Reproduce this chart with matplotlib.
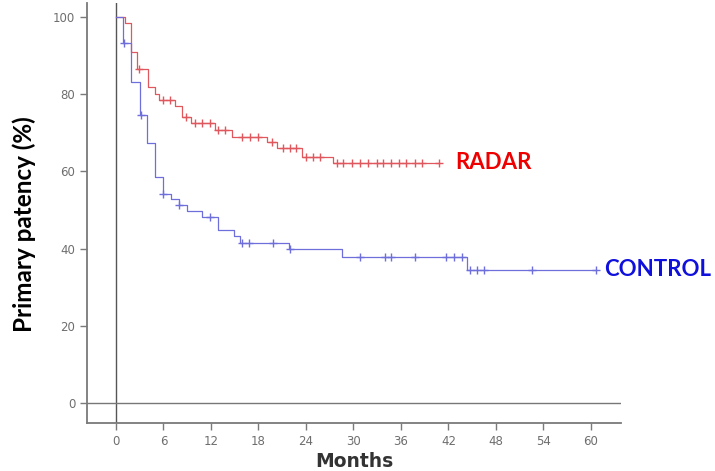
import matplotlib
matplotlib.use('Agg')
import matplotlib.pyplot as plt
import numpy as np

# Kaplan-Meier steps (months, % patent)
radar_t = [0, 1.2, 1.85, 2.7, 4.0, 4.9, 5.4, 7.5, 8.4, 9.5, 12.5, 14.7, 19.1, 20.3, 23.5, 27.4, 40.8]
radar_v = [100, 98.5, 91.0, 86.4, 81.9, 80.0, 78.5, 77.0, 74.0, 72.6, 70.7, 68.8, 67.6, 66.0, 63.7, 62.2, 62.2]
radar_cens = [2.9, 5.9, 6.8, 8.8, 10.0, 10.9, 11.9, 12.9, 13.8, 15.9, 16.9, 17.9, 19.7, 21.1, 22.0,
              22.8, 24.0, 24.9, 25.8, 27.9, 28.7, 29.8, 30.8, 31.8, 33.0, 33.7, 34.8, 35.7, 36.7,
              37.8, 38.6, 40.8]

control_t = [0, 0.9, 1.9, 3.0, 3.9, 4.9, 5.9, 7.0, 7.9, 9.0, 10.9, 12.9, 14.9, 15.7, 21.9, 28.5, 44.4, 60.7]
control_v = [100, 93.3, 83.2, 74.6, 67.4, 58.5, 54.1, 52.8, 51.3, 49.7, 48.2, 44.8, 43.3, 41.5, 39.9, 37.7, 34.5, 34.5]
control_cens = [1.0, 3.1, 6.0, 8.0, 11.9, 15.9, 16.8, 19.8, 22.0, 30.8, 34.0, 34.7, 37.8, 41.7,
                42.7, 43.7, 44.7, 45.6, 46.5, 52.5, 60.7]

x_ticks = list(range(0, 61, 6))
y_ticks = [0, 20, 40, 60, 80, 100]

RED_LINE = '#e0585e'
BLUE_LINE = '#6f6fdc'
AXIS_GRAY = '#7a7a7a'


def step_value(times, values, at):
    # survival level right at a censoring time
    idx = np.searchsorted(times, at, side='right') - 1
    return np.asarray(values)[idx]


fig = plt.figure(figsize=(7.15, 4.71), dpi=100)
ax = fig.add_axes([0.1217, 0.1019, 0.8685 - 0.1217, 0.9936 - 0.1019])

ax.plot(radar_t, radar_v, drawstyle='steps-post', color=RED_LINE, lw=0.9)
ax.plot(radar_cens, step_value(radar_t, radar_v, radar_cens), ls='none', marker='+',
        ms=6, mew=1.0, color=RED_LINE)

ax.plot(control_t, control_v, drawstyle='steps-post', color=BLUE_LINE, lw=0.9)
ax.plot(control_cens, step_value(control_t, control_v, control_cens), ls='none', marker='+',
        ms=6, mew=1.0, color=BLUE_LINE)

# reference lines through the origin
ax.axvline(0, color='#555555', lw=1.0, zorder=0)
ax.axhline(0, color='#777777', lw=1.0, zorder=0)

ax.set_xlim(-3.66, 63.8)
ax.set_ylim(-5.2, 103.6)
ax.set_xticks(x_ticks)
ax.set_yticks(y_ticks)

for side in ['top', 'right']:
    ax.spines[side].set_visible(False)
for side in ['left', 'bottom']:
    ax.spines[side].set_color(AXIS_GRAY)
    ax.spines[side].set_linewidth(1.3)

ax.tick_params(axis='both', direction='out', length=5, width=1.0, color=AXIS_GRAY,
               labelcolor='#6e6e6e', labelsize=8.5)

ax.set_xlabel('Months', fontsize=13.5, fontweight='bold', color='#333333', labelpad=3)
ax.set_ylabel('Primary patency (%)', family='Lato', fontsize=17.5, fontweight='bold',
              color='black')
ax.yaxis.set_label_coords(-0.096, 0.474)

ax.text(42.8, 62.2, 'RADAR', family='Lato', fontsize=16, fontweight='bold',
        color='#ee0000', va='center', ha='left')
ax.text(61.7, 34.5, 'CONTROL', family='Lato', fontsize=16, fontweight='bold',
        color='#1010dd', va='center', ha='left', clip_on=False)

fig.savefig('out.png', dpi=100)
